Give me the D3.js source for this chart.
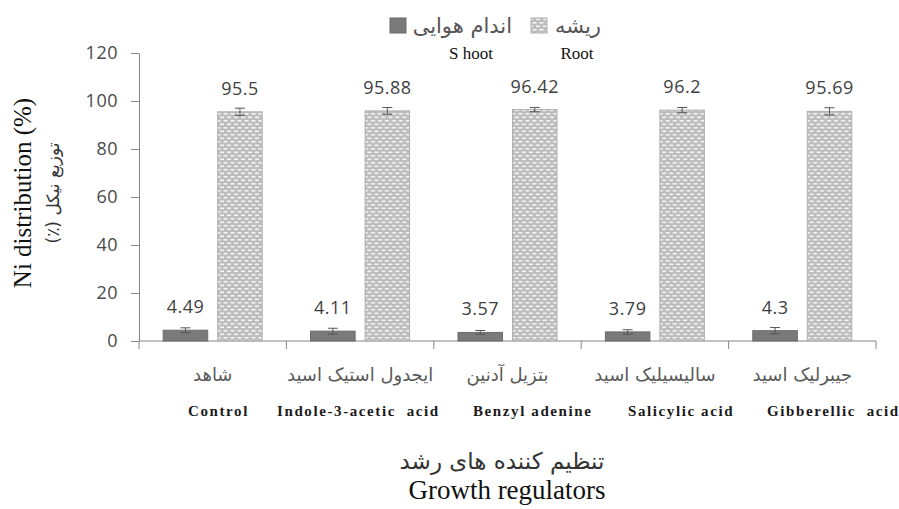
<!DOCTYPE html>
<html><head><meta charset="utf-8">
<script src="https://cdn.jsdelivr.net/npm/d3@7"></script>
<style>body{margin:0;background:#fff}svg{display:block}</style>
</head><body>
<script>
const categoriesFa = ["شاهد","ایجدول استیک اسید","بتزیل آدنین","سالیسیلیک اسید","جیبرلیک اسید"];
const categoriesEn = ["Control","Indole-3-acetic  acid","Benzyl adenine","Salicylic acid","Gibberellic  acid"];
const shootValues = [4.49, 4.11, 3.57, 3.79, 4.3];
const rootValues = [95.5, 95.88, 96.42, 96.2, 95.69];
const shootErr = [1.0, 1.2, 0.8, 0.9, 1.3];
const rootErr = [1.5, 1.4, 0.9, 1.1, 1.5];
const yTicks = [0,20,40,60,80,100,120];

// layout (text box of English names in the original is not centred on categories)
const enLabelStart = [188, 277, 473, 628, 767];

const W=899,H=509;
const svg=d3.select("body").append("svg").attr("width",W).attr("height",H);
const defs=svg.append("defs");
const pat=defs.append("pattern").attr("id","dots").attr("patternUnits","userSpaceOnUse")
  .attr("width",7).attr("height",7);
pat.append("rect").attr("width",7).attr("height",7).attr("fill","#bdbdbd");
pat.append("rect").attr("x",0.5).attr("y",1).attr("width",4).attr("height",1.6).attr("fill","#f4f4f4");
pat.append("rect").attr("x",4).attr("y",4.5).attr("width",4).attr("height",1.6).attr("fill","#f4f4f4");
pat.append("rect").attr("x",-3).attr("y",4.5).attr("width",4).attr("height",1.6).attr("fill","#f4f4f4");

const x0=139,x1=876,yTop=53,yBot=341;
const y=d3.scaleLinear().domain([0,120]).range([yBot,yTop]);
const xb=d3.scaleBand().domain(d3.range(5)).range([x0,x1]).paddingInner(0).paddingOuter(0);
const xs=d3.scaleBand().domain(["s","r"]).range([0,xb.bandwidth()]).paddingInner(0.183).paddingOuter(0.444);

// y axis
const ya=svg.append("g").attr("transform",`translate(${x0},0)`)
  .call(d3.axisLeft(y).tickValues(yTicks).tickSize(8).tickPadding(13).tickSizeOuter(0));
ya.select(".domain").attr("stroke","#868686");
ya.selectAll(".tick line").attr("stroke","#868686");
ya.selectAll("text").attr("font-family","Open Sans, Liberation Sans, sans-serif").attr("font-size",18).attr("fill","#4a4a4a").attr("letter-spacing","0.5px");

// x axis
const xa=svg.append("g").attr("transform",`translate(0,${yBot})`);
xa.append("line").attr("x1",x0).attr("x2",x1).attr("stroke","#868686");
xa.selectAll("line.t").data(d3.range(6)).join("line").attr("class","t")
  .attr("x1",i=>x0+i*xb.bandwidth()).attr("x2",i=>x0+i*xb.bandwidth()).attr("y1",0).attr("y2",8).attr("stroke","#868686");

const g=svg.append("g");
const cats=g.selectAll("g.c").data(d3.range(5)).join("g").attr("transform",i=>`translate(${xb(i)},0)`);
cats.append("rect").attr("x",xs("s")).attr("width",xs.bandwidth())
  .attr("y",i=>y(shootValues[i])).attr("height",i=>yBot-y(shootValues[i]))
  .attr("fill","#7a7a7a").attr("stroke","#6a6a6a");
cats.append("rect").attr("x",xs("r")).attr("width",xs.bandwidth())
  .attr("y",i=>y(rootValues[i])).attr("height",i=>yBot-y(rootValues[i]))
  .attr("fill","url(#dots)").attr("stroke","#b0b0b0");
function eb(sel,key,vals,errs){
  const cx=xs(key)+xs.bandwidth()/2;
  sel.append("line").attr("x1",cx).attr("x2",cx).attr("y1",i=>y(vals[i]+errs[i])).attr("y2",i=>y(vals[i]-errs[i])).attr("stroke","#555");
  sel.append("line").attr("x1",cx-5).attr("x2",cx+5).attr("y1",i=>y(vals[i]+errs[i])).attr("y2",i=>y(vals[i]+errs[i])).attr("stroke","#555");
  sel.append("line").attr("x1",cx-5).attr("x2",cx+5).attr("y1",i=>y(vals[i]-errs[i])).attr("y2",i=>y(vals[i]-errs[i])).attr("stroke","#555");
}
eb(cats,"s",shootValues,shootErr);
eb(cats,"r",rootValues,rootErr);
const vf="Open Sans, Liberation Sans, sans-serif";
cats.append("text").attr("x",xs("s")+xs.bandwidth()/2).attr("y",i=>y(shootValues[i])-17)
  .attr("text-anchor","middle").attr("font-family",vf).attr("font-size",18).attr("letter-spacing","0.5px").attr("fill","#3f3f3f").text(i=>shootValues[i]);
cats.append("text").attr("x",xs("r")+xs.bandwidth()/2).attr("y",i=>y(rootValues[i])-17)
  .attr("text-anchor","middle").attr("font-family",vf).attr("font-size",18).attr("letter-spacing","0.5px").attr("fill","#3f3f3f").text(i=>rootValues[i]);
cats.append("text").attr("x",xb.bandwidth()/2).attr("y",381).attr("text-anchor","middle")
  .attr("font-family","DejaVu Sans, sans-serif").attr("font-size",18).attr("fill","#595959").attr("direction","rtl").attr("unicode-bidi","embed")
  .text(i=>categoriesFa[i]);
svg.append("g").selectAll("text").data(d3.range(5)).join("text")
  .attr("x",i=>enLabelStart[i]).attr("y",416).attr("text-anchor","start")
  .attr("font-family","Liberation Serif, serif").attr("font-weight","bold").attr("font-size",15).attr("fill","#1a1a1a").attr("letter-spacing","1.6px")
  .style("white-space","pre")
  .text(i=>categoriesEn[i]);

// axis titles
svg.append("text").attr("transform","translate(31,193) rotate(-90)").attr("text-anchor","middle")
  .attr("font-family","Liberation Serif, serif").attr("font-size",25).attr("fill","#111").text("Ni distribution (%)");
svg.append("text").attr("transform","translate(59,193) rotate(-90)").attr("text-anchor","middle")
  .attr("font-family","DejaVu Sans, sans-serif").attr("font-size",17).attr("fill","#333").attr("direction","rtl").attr("unicode-bidi","embed").text("توزیع نیکل (٪)");
svg.append("text").attr("x",502).attr("y",469).attr("text-anchor","middle")
  .attr("font-family","DejaVu Sans, sans-serif").attr("font-size",23).attr("fill","#333").attr("direction","rtl").attr("unicode-bidi","embed").text("تنظیم کننده های رشد");
svg.append("text").attr("x",507).attr("y",499).attr("text-anchor","middle")
  .attr("font-family","Liberation Serif, serif").attr("font-size",27).attr("fill","#111").text("Growth regulators");

// legend
const lg=svg.append("g");
lg.append("rect").attr("x",390).attr("y",18).attr("width",16).attr("height",15).attr("fill","#7a7a7a").attr("stroke","#6a6a6a");
lg.append("text").attr("x",512).attr("y",33).attr("text-anchor","end").attr("font-family","DejaVu Sans, sans-serif").attr("font-size",21).attr("fill","#555").text("اندام هوایی");
lg.append("rect").attr("x",531).attr("y",18).attr("width",16).attr("height",15).attr("fill","url(#dots)").attr("stroke","#b0b0b0");
lg.append("text").attr("x",601).attr("y",33).attr("text-anchor","end").attr("font-family","DejaVu Sans, sans-serif").attr("font-size",21).attr("fill","#555").text("ریشه");
lg.append("text").attr("x",471).attr("y",59).attr("text-anchor","middle").attr("font-family","Liberation Serif, serif").attr("font-size",17).attr("fill","#111").text("S hoot");
lg.append("text").attr("x",577).attr("y",59).attr("text-anchor","middle").attr("font-family","Liberation Serif, serif").attr("font-size",17).attr("fill","#111").text("Root");
</script>
</body></html>
